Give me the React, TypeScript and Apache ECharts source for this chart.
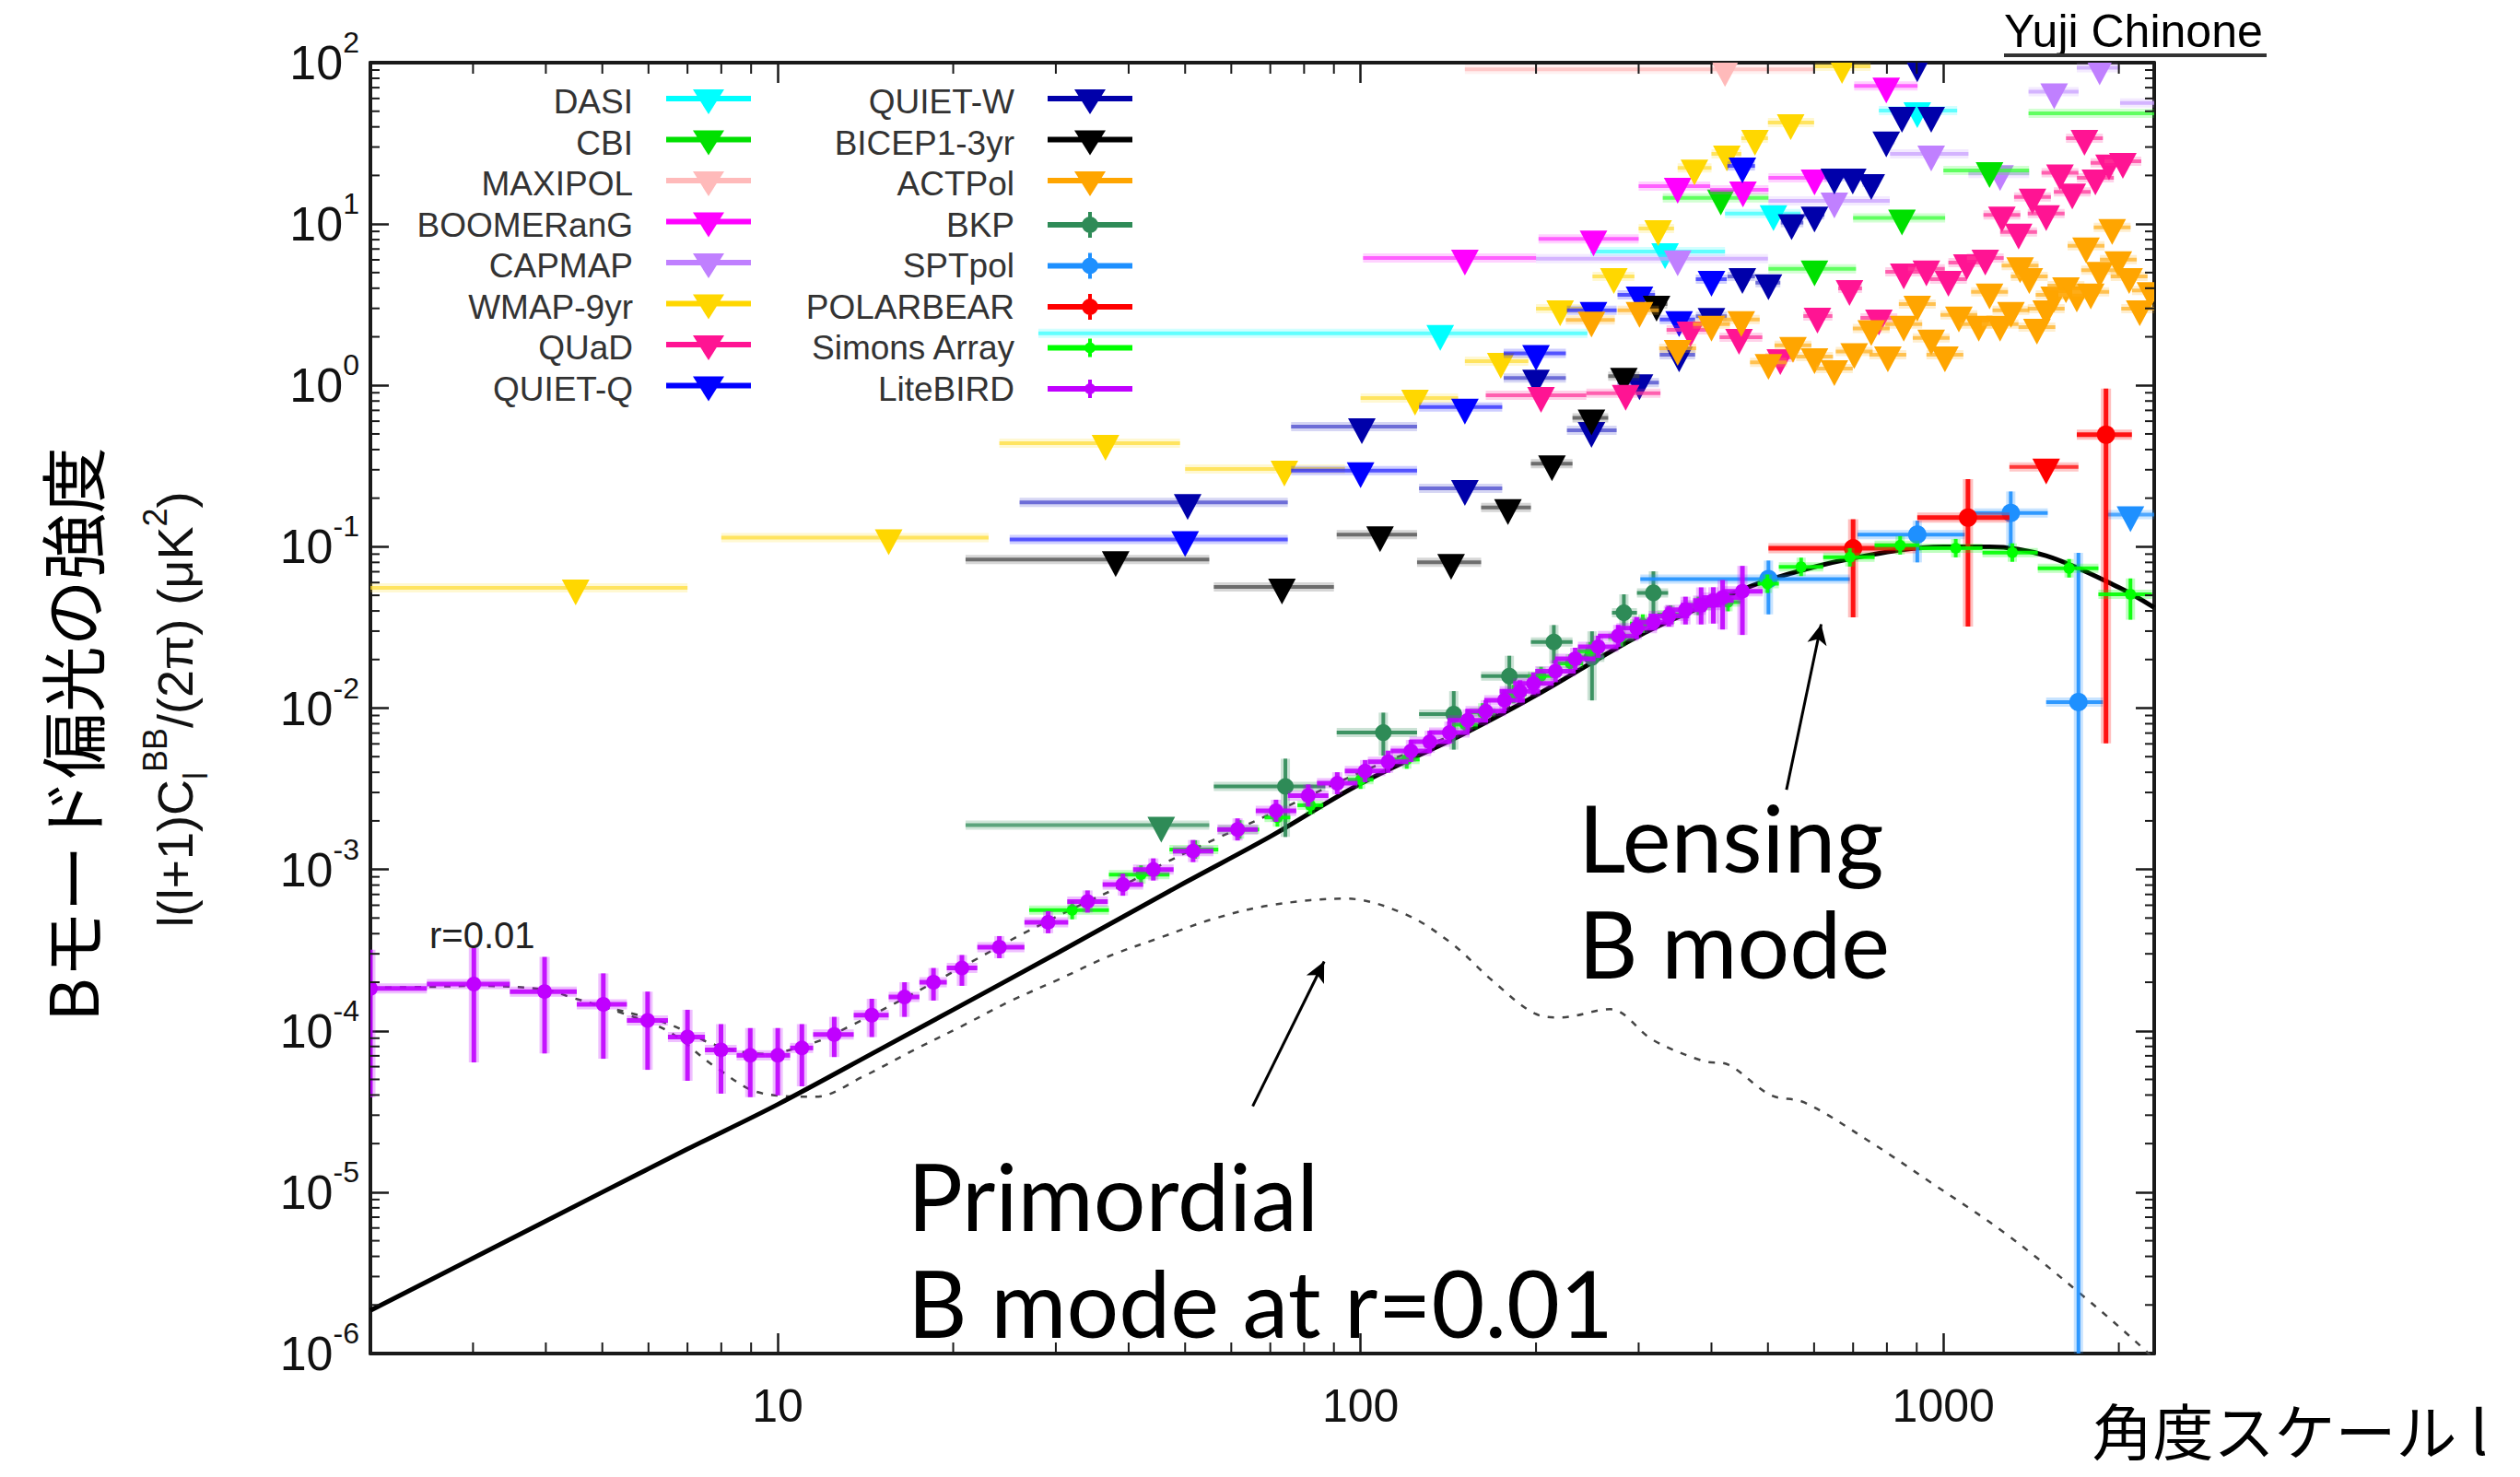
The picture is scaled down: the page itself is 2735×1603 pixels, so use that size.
import React, { useEffect, useRef } from 'react';
import * as echarts from 'echarts';

// ---------- axes ----------
const X_RANGE = [2, 2300];
const Y_RANGE = [1e-6, 100];
const X_MINOR_TICKS = [3, 4, 5, 6, 7, 8, 9, 20, 30, 40, 50, 60, 70, 80, 90, 200, 300, 400, 500, 600, 700, 800, 900, 2000];
const Y_TICK_MANTISSAS = [2, 3, 4, 5, 6, 7, 8, 9];
const Y_TICK_DECADES = [-6, -5, -4, -3, -2, -1, 0, 1];

// ---------- upper limits: [l, limit, lMin, lMax] ----------
const DASI = [[137, 2.1, 28, 245], [333, 6.75, 248, 422], [511, 11.6, 422, 569], [902, 50.5, 775, 1056]];
const CBI = [[415, 14.5, 330, 501], [601, 5.28, 501, 708], [849, 10.9, 700, 1007], [1200, 21.5, 1000, 1403], [2600, 48.5, 1400, 3500]];
const MAXIPOL = [[422, 91, 151, 601]];
const BOOMERANG = [[151, 6.15, 101, 200], [251, 8.1, 202, 300], [350, 17.2, 300, 398], [453, 16.3, 398, 501], [601, 19.3, 501, 645], [798, 71.7, 703, 903]];
const CAPMAP = [[350, 6.1, 200, 500], [650, 13.9, 501, 809], [953, 27.2, 810, 1104], [1251, 20.6, 1104, 1403], [1549, 66, 1400, 1706], [1854, 93, 1694, 2009], [2450, 56.3, 2010, 2800]];
const WMAP9 = [[4.5, 0.0556, 2.0, 7.0], [15.5, 0.114, 8.0, 23.0], [36.5, 0.438, 24, 49], [74, 0.303, 50, 94], [124, 0.834, 100, 147], [174, 1.41, 151, 194], [220, 2.99, 200, 242], [272, 4.73, 250, 295], [324, 9.38, 300, 345], [374, 22.3, 350, 400], [425, 27.2, 400, 450], [475, 34, 450, 500], [547, 42.5, 500, 600], [670, 95, 600, 750]];
const QUAD = [[204, 0.867, 164, 244], [285, 0.895, 244, 327], [368, 2.21, 335, 400], [446, 1.99, 413, 489], [525, 1.49, 495, 555], [608, 2.69, 575, 645], [690, 3.99, 660, 725], [775, 2.62], [855, 5.05], [935, 5.28], [1020, 4.55], [1097, 5.76], [1180, 6.15], [1260, 11.4], [1346, 8.93], [1422, 14.7], [1501, 11.6], [1585, 20.8], [1664, 15.8], [1746, 34], [1823, 19.3], [1924, 23.9], [2032, 24.5]];
const QUIET_Q = [[50, 0.111, 25, 75], [100, 0.296, 76, 125], [151, 0.735, 126, 175], [200, 1.58, 176, 225], [251, 2.92, 226, 275], [301, 3.64, 276, 320], [352, 2.56, 326, 375], [400, 4.55, 376, 425], [452, 22.9, 426, 475]];
const QUIET_W = [[50.5, 0.188, 26, 75], [100.5, 0.555, 76, 125], [151, 0.23, 126, 175], [200, 1.11, 176, 225], [249, 0.526, 226, 275], [301, 1.04, 276, 325], [352, 1.55, 326, 375], [400, 2.68, 376, 425], [452, 4.73, 426, 475], [501, 4.33, 476, 525], [549, 10.2, 526, 575], [601, 11.4, 576, 625], [650, 19.6, 626, 675], [699, 19.6, 676, 725], [752, 18.1, 726, 775], [798, 33.3, 776, 825], [849, 47.3, 826, 875], [902, 97, 876, 925], [953, 47.3, 926, 975]];
const BICEP1 = [[38, 0.0833, 21, 55], [73.3, 0.0563, 56, 90], [108, 0.119, 91, 125], [143, 0.08, 125, 161], [179, 0.175, 161, 196], [213, 0.327, 196, 231], [249, 0.63, 231, 266], [283, 1.14, 266, 301], [322, 3.19, 301, 336]];
const ACTPOL = [[249, 2.54, 225, 273], [301, 2.92, 276, 325], [350, 1.7], [400, 2.4], [450, 2.56], [501, 1.39], [552, 1.77], [601, 1.51], [650, 1.27], [703, 1.62], [752, 2.25], [803, 1.55], [855, 2.4], [902, 3.19], [953, 1.97], [1006, 1.55], [1063, 2.73], [1150, 2.4], [1200, 3.8], [1251, 2.4], [1306, 2.92], [1354, 5.52], [1404, 4.73], [1447, 2.3], [1501, 2.99], [1549, 3.64], [1623, 4.15], [1694, 3.64], [1757, 7.33], [1790, 3.8], [1854, 5.17], [1948, 9.54], [1996, 6.02], [2083, 4.73], [2172, 2.99], [2266, 3.88]];
const BKP_LIMITS = [[45.5, 0.00188, 21, 55]];
const SPTPOL_LIMITS = [[2094, 0.158, 1910, 2500]];
const POLARBEAR_LIMITS = [[1501, 0.312, 1298, 1705]];

// ---------- detections: [l, value, lMin, lMax, errLow, errHigh] ----------
const BKP = [[74.3, 0.00327, 56, 87, 0.00159, 0.00486], [109.4, 0.00705, 91, 125, 0.00507, 0.00937], [144.5, 0.00917, 126, 149, 0.00553, 0.01274], [180, 0.0158, 161, 195, 0.0122, 0.0211], [214.6, 0.0257, 196, 231, 0.0189, 0.0327], [249.5, 0.02065, 237, 262, 0.01116, 0.0299], [283, 0.039, 270, 298, 0.0306, 0.0507], [318, 0.0518, 298, 337, 0.0381, 0.0704]];
const SPTPOL = [[501, 0.0631, 302, 691, 0.0381, 0.0821], [902, 0.119, 712, 1088, 0.08, 0.145], [1305, 0.162, 1129, 1510, 0.1, 0.22], [1705, 0.0109, 1501, 1878, 1e-7, 0.0916]];
const POLARBEAR = [[700, 0.0978, 501, 897, 0.0365, 0.148], [1102, 0.1515, 902, 1298, 0.032, 0.262], [1901, 0.495, 1694, 2106, 0.00604, 0.955]];
const SIMONS = [[32, 5.6e-4, 27, 37], [42, 9.3e-4, 37, 47], [52, 1.33e-3, 47, 57], [62, 1.77e-3, 57, 67], [72, 2.1e-3], [82, 2.5e-3], [100, 3.6e-3], [120, 4.8e-3], [151, 7.9e-3], [162, 9.4e-3], [183, 0.0122], [204, 0.0158], [229, 0.0189], [248, 0.0225], [280, 0.0275], [305, 0.0334], [340, 0.038], [380, 0.043], [427, 0.0454], [499, 0.059, 480, 522], [570, 0.075, 522, 622], [691, 0.086, 622, 762], [843, 0.102, 762, 910], [1050, 0.098, 910, 1167], [1313, 0.092, 1167, 1452], [1643, 0.0735, 1452, 1845], [2094, 0.0507, 1845, 2280, 0.0353, 0.0636]];
const LITEBIRD = [[2.0, 1.83e-4, 1.6, 2.5, 3.88e-5, 3.18e-4], [3.01, 1.95e-4, 2.5, 3.47, 6.37e-5, 3.27e-4], [3.98, 1.75e-4, 3.47, 4.52, 7.24e-5, 2.87e-4], [5.02, 1.46e-4, 4.52, 5.51, 6.71e-5, 2.27e-4], [5.98, 1.16e-4, 5.51, 6.48, 5.73e-5, 1.75e-4], [7.0, 9.15e-5, 6.48, 7.5, 4.9e-5, 1.35e-4], [7.99, 7.62e-5, 7.5, 8.5, 4.08e-5, 1.1e-4], [8.97, 7.05e-5, 8.5, 9.5, 3.88e-5, 1.04e-4], [10.0, 7.05e-5, 9.5, 10.5, 3.98e-5, 1.04e-4], [11.0, 7.83e-5, 10.5, 11.5, 4.53e-5, 1.1e-4], [12.5, 9.49e-5, 11.5, 13.5, 6.88e-5, 1.22e-4], [14.5, 1.25e-4, 13.5, 15.5, 9.15e-5, 1.58e-4], [16.5, 1.62e-4, 15.5, 17.5, 1.22e-4, 2.0e-4], [18.5, 2.0e-4, 17.5, 19.5, 1.54e-4, 2.45e-4], [20.7, 2.45e-4, 19.5, 22.0, 1.9e-4, 2.95e-4], [24.0, 3.3e-4, 22.0, 26.5], [29.1, 4.71e-4, 26.5, 31.5], [34.0, 6.33e-4], [39.1, 8.05e-4], [44.1, 1.0e-3], [51.6, 1.3e-3], [61.5, 1.77e-3], [71.6, 2.31e-3], [81.3, 2.87e-3], [91.2, 3.42e-3], [101.8, 4.07e-3], [111.5, 4.65e-3], [122, 5.42e-3], [131.4, 6.18e-3], [142, 7.05e-3], [152.7, 8.4e-3], [164, 9.57e-3], [176.6, 0.0112], [187.7, 0.0127], [198, 0.01422], [216, 0.01694], [233.5, 0.0202], [255.7, 0.024], [276.7, 0.028], [297.7, 0.0313], [318, 0.0341, 0, 0, 0.031, 0.038], [338, 0.0373, 0, 0, 0.032, 0.043], [361, 0.0407, 0, 0, 0.033, 0.049], [384, 0.0434, 0, 0, 0.033, 0.056], [403, 0.0464, 0, 0, 0.0334, 0.0561], [418, 0.0485, 0, 0, 0.0307, 0.0622], [452, 0.053, 0, 0, 0.0284, 0.0761]];

// ---------- theory curves: [l, D_l] ----------
const LENSING = [[2, 1.85e-6], [3, 3.9e-6], [5, 1.0e-5], [7, 1.85e-5], [10, 3.5e-5], [15, 7.7e-5], [20, 1.35e-4], [30, 3.0e-4], [50, 8.3e-4], [70, 1.6e-3], [100, 3.4e-3], [150, 6.9e-3], [200, 0.012], [300, 0.028], [400, 0.045], [500, 0.062], [700, 0.085], [1000, 0.1], [1200, 0.1], [1500, 0.088], [2000, 0.056], [2300, 0.042]];
const PRIMORDIAL = [[2, 1.85e-4], [2.5, 1.87e-4], [3, 1.9e-4], [4, 1.8e-4], [4.4, 1.62e-4], [5.3, 1.32e-4], [6.5, 9.9e-5], [7.8, 6.0e-5], [9.4, 4.1e-5], [11.6, 3.9e-5], [14, 5.2e-5], [17, 7.5e-5], [20.7, 1.07e-4], [25, 1.52e-4], [30.5, 2.1e-4], [37, 2.9e-4], [45.5, 3.8e-4], [56, 4.95e-4], [70, 6.0e-4], [94, 6.6e-4], [119, 5.3e-4], [143, 3.5e-4], [168, 2.06e-4], [199, 1.28e-4], [220, 1.21e-4], [268, 1.36e-4], [317, 8.8e-5], [387, 6.5e-5], [428, 6.15e-5], [505, 4.0e-5], [577, 3.6e-5], [741, 2.1e-5], [951, 1.15e-5], [1282, 5.5e-6], [1730, 2.3e-6], [2219, 1.05e-6], [2300, 9e-7]];
const TOTAL = [[5.3, 1.35e-4], [6.5, 1.1e-4], [7.8, 8.2e-5], [9.4, 7.2e-5], [11.6, 8.5e-5], [13.3, 1.07e-4], [16, 1.5e-4], [21.6, 2.7e-4], [26, 3.9e-4], [33, 6.0e-4], [40, 8.3e-4], [46, 1.09e-3], [56.5, 1.55e-3], [70, 2.2e-3], [100, 4.0e-3], [150, 7.3e-3], [200, 0.0124]];

// ---------- arrows (data coords) ----------
const LENSING_ARROW = [[538, 0.00312], [617, 0.0331]];
const PRIMORDIAL_ARROW = [[65.3, 3.41e-5], [86.6, 2.69e-4]];

const LEGEND_LEFT = ['DASI', 'CBI', 'MAXIPOL', 'BOOMERanG', 'CAPMAP', 'WMAP-9yr', 'QUaD', 'QUIET-Q'];
const LEGEND_RIGHT = ['QUIET-W', 'BICEP1-3yr', 'ACTPol', 'BKP', 'SPTpol', 'POLARBEAR', 'Simons Array', 'LiteBIRD'];

const FONT = '"Liberation Sans", Arial, sans-serif';
const ANN = 'Lato, "Open Sans", sans-serif';
const CJK = '"Noto Sans CJK JP", sans-serif';

const LIMIT_ICON = 'path://M0,7L92,7L92,13L0,13Z M29,0L63,0L46,27Z';
const POINT_ICON = 'path://M0,11L92,11L92,17L0,17Z M44,0L48,0L48,28L44,28Z M37,14A9,9,0,1,1,55,14A9,9,0,1,1,37,14Z';
const SMALL_ICON = 'path://M0,11L92,11L92,17L0,17Z M44,4L48,4L48,24L44,24Z M40,14A6,6,0,1,1,52,14A6,6,0,1,1,40,14Z';

const DIMS = ['l', 'y', 'lo', 'hi', 'ylo', 'yhi'].map((n) => ({ name: n, type: 'float' }));
const norm = (rows: number[][]) => rows.map((r) => [r[0], r[1], r[2] || 0, r[3] || 0, r[4] || 0, r[5] || 0]);

function limitSeries(name: string, rows: number[][], color: string, barColor: string) {
  return {
    type: 'custom', name, coordinateSystem: 'cartesian2d', clip: true, z: 3, silent: true,
    itemStyle: { color }, dimensions: DIMS, encode: { x: 0, y: 1 }, data: norm(rows),
    renderItem: (params: any, api: any) => {
      const l = api.value(0), y = api.value(1), lo = api.value(2), hi = api.value(3);
      const p = api.coord([l, y]);
      const x0 = lo > 0 ? api.coord([lo, y])[0] : p[0] - 20;
      const x1 = hi > 0 ? api.coord([hi, y])[0] : p[0] + 20;
      return {
        type: 'group',
        children: [
          { type: 'line', shape: { x1: x0, y1: p[1], x2: x1, y2: p[1] }, style: { stroke: barColor, lineWidth: 10, opacity: 0.22 } },
          { type: 'line', shape: { x1: x0, y1: p[1], x2: x1, y2: p[1] }, style: { stroke: barColor, lineWidth: 4, opacity: 0.72 } },
          { type: 'polygon', shape: { points: [[p[0] - 15, p[1] - 9], [p[0] + 15, p[1] - 9], [p[0], p[1] + 19]] }, style: { fill: color } },
        ],
      };
    },
  };
}

function pointSeries(name: string, rows: number[][], color: string, r: number, core: number, hw: number, vw: number, z: number) {
  return {
    type: 'custom', name, coordinateSystem: 'cartesian2d', clip: true, z, silent: true,
    itemStyle: { color }, dimensions: DIMS, encode: { x: 0, y: 1 }, data: norm(rows),
    renderItem: (params: any, api: any) => {
      const l = api.value(0), y = api.value(1), lo = api.value(2), hi = api.value(3), ylo = api.value(4), yhi = api.value(5);
      const p = api.coord([l, y]);
      const xa = lo > 0 ? api.coord([lo, y])[0] : p[0] - hw;
      const xb = hi > 0 ? api.coord([hi, y])[0] : p[0] + hw;
      const ya = ylo > 0 ? api.coord([l, ylo])[1] : p[1] + vw;
      const yb = yhi > 0 ? api.coord([l, yhi])[1] : p[1] - vw;
      const children: any[] = [];
      [core + 6, core].forEach((w, i) => {
        const op = i === 0 ? 0.25 : 0.9;
        children.push({ type: 'line', shape: { x1: xa, y1: p[1], x2: xb, y2: p[1] }, style: { stroke: color, lineWidth: w, opacity: op } });
        children.push({ type: 'line', shape: { x1: p[0], y1: ya, x2: p[0], y2: yb }, style: { stroke: color, lineWidth: w, opacity: op } });
      });
      children.push({ type: 'circle', shape: { cx: p[0], cy: p[1], r }, style: { fill: color } });
      return { type: 'group', children };
    },
  };
}

function lineSeries(name: string, pts: number[][], style: any, z: number, extra: any = {}) {
  return {
    type: 'line', name, data: pts, showSymbol: false, symbol: 'none', smooth: 0.35, silent: true, z,
    lineStyle: style, ...extra,
  };
}

function buildOption() {
  const axisLine = { show: true, onZero: false, lineStyle: { color: '#1a1a1a', width: 4 } };
  const xTicks = X_MINOR_TICKS.map((v) => [v, 1]);
  const yTicks: number[][] = [];
  Y_TICK_DECADES.forEach((e) => Y_TICK_MANTISSAS.forEach((m) => yTicks.push([10, m * Math.pow(10, e)])));

  const tickStyle = { stroke: '#1a1a1a', lineWidth: 2 };
  const xMinor = {
    type: 'custom', name: 'xminor', coordinateSystem: 'cartesian2d', silent: true, z: 6, data: xTicks,
    renderItem: (params: any, api: any) => {
      const p = api.coord([api.value(0), api.value(1)]);
      const cs = params.coordSys;
      const b = cs.y + cs.height, t = cs.y;
      return { type: 'group', children: [
        { type: 'line', shape: { x1: p[0], y1: b, x2: p[0], y2: b - 12 }, style: tickStyle },
        { type: 'line', shape: { x1: p[0], y1: t, x2: p[0], y2: t + 12 }, style: tickStyle },
      ] };
    },
  };
  const yMinor = {
    type: 'custom', name: 'yminor', coordinateSystem: 'cartesian2d', silent: true, z: 6, data: yTicks,
    renderItem: (params: any, api: any) => {
      const p = api.coord([api.value(0), api.value(1)]);
      const cs = params.coordSys;
      const lft = cs.x, rgt = cs.x + cs.width;
      return { type: 'group', children: [
        { type: 'line', shape: { x1: lft, y1: p[1], x2: lft + 10, y2: p[1] }, style: tickStyle },
        { type: 'line', shape: { x1: rgt, y1: p[1], x2: rgt - 10, y2: p[1] }, style: tickStyle },
      ] };
    },
  };

  const icons: Record<string, string> = {
    BKP: POINT_ICON, SPTpol: POINT_ICON, POLARBEAR: POINT_ICON, 'Simons Array': SMALL_ICON, LiteBIRD: SMALL_ICON,
  };
  const legendCommon = {
    orient: 'vertical', top: 87, align: 'right', itemWidth: 92, itemHeight: 28, itemGap: 7.5, selectedMode: false,
    textStyle: { fontSize: 37, fontFamily: FONT, color: '#333', padding: [0, 31, 0, 0] },
  };

  const arrowLine = {
    silent: true, symbol: ['none', 'arrow'], symbolSize: [16, 22], label: { show: false },
    lineStyle: { color: '#000', width: 3, type: 'solid' }, emphasis: { disabled: true },
    data: [
      [{ coord: LENSING_ARROW[0] }, { coord: LENSING_ARROW[1] }],
      [{ coord: PRIMORDIAL_ARROW[0] }, { coord: PRIMORDIAL_ARROW[1] }],
    ],
  };

  return {
    animation: false,
    backgroundColor: '#ffffff',
    grid: { left: 402, top: 68, width: 1936, height: 1401 },
    legend: [
      { ...legendCommon, right: 1915, data: LEGEND_LEFT.map((n) => ({ name: n, icon: icons[n] || LIMIT_ICON })) },
      { ...legendCommon, right: 1501, data: LEGEND_RIGHT.map((n) => ({ name: n, icon: icons[n] || LIMIT_ICON })) },
    ],
    xAxis: [
      {
        type: 'log', logBase: 10, min: X_RANGE[0], max: X_RANGE[1], position: 'bottom',
        axisLine, axisTick: { inside: true, length: 22, lineStyle: { color: '#1a1a1a', width: 2.5 } },
        splitLine: { show: false },
        axisLabel: {
          margin: 32, fontSize: 50, fontFamily: FONT, color: '#111', showMinLabel: false, showMaxLabel: false,
          formatter: (v: number) => { const e = Math.log10(v); return Math.abs(e - Math.round(e)) < 1e-6 ? String(Math.round(v)) : ''; },
        },
        name: '角度スケール l', nameLocation: 'end', nameGap: 362,
        nameTextStyle: { fontSize: 66, lineHeight: 66, fontFamily: CJK, color: '#000', align: 'right', verticalAlign: 'top', padding: [48, 0, 0, 0] },
      },
      {
        type: 'log', logBase: 10, min: X_RANGE[0], max: X_RANGE[1], position: 'top',
        axisLine, axisTick: { inside: true, length: 22, lineStyle: { color: '#1a1a1a', width: 2.5 } },
        splitLine: { show: false }, axisLabel: { show: false },
      },
    ],
    yAxis: [
      {
        type: 'log', logBase: 10, min: Y_RANGE[0], max: Y_RANGE[1], position: 'left',
        axisLine, axisTick: { inside: true, length: 20, lineStyle: { color: '#1a1a1a', width: 2.5 } },
        splitLine: { show: false },
        axisLabel: {
          margin: 12,
          formatter: (v: number) => { const e = Math.log10(v); const r = Math.round(e); return Math.abs(e - r) < 1e-6 ? `{b|10}{s|${r}}` : ''; },
          rich: {
            b: { fontSize: 52, fontFamily: FONT, color: '#111', lineHeight: 76 },
            s: { fontSize: 32, fontFamily: FONT, color: '#111', lineHeight: 32, verticalAlign: 'top' },
          },
        },
      },
      {
        type: 'log', logBase: 10, min: Y_RANGE[0], max: Y_RANGE[1], position: 'right',
        axisLine, axisTick: { inside: true, length: 20, lineStyle: { color: '#1a1a1a', width: 2.5 } },
        splitLine: { show: false }, axisLabel: { show: false },
      },
    ],
    series: [
      lineSeries('primordial', PRIMORDIAL, { color: '#444', width: 2.5, type: [7, 9] }, 1),
      lineSeries('total', TOTAL, { color: '#444', width: 2.5, type: [7, 9] }, 1),
      lineSeries('lensing', LENSING, { color: '#000', width: 5 }, 2, { markLine: arrowLine }),
      limitSeries('MAXIPOL', MAXIPOL, '#FFBABA', '#FFBABA'),
      limitSeries('DASI', DASI, '#00FFFF', '#33FFFF'),
      limitSeries('CAPMAP', CAPMAP, '#C080FF', '#C8A0FF'),
      limitSeries('CBI', CBI, '#00E000', '#33FF33'),
      limitSeries('BOOMERanG', BOOMERANG, '#FF00FF', '#FF33FF'),
      limitSeries('WMAP-9yr', WMAP9, '#FFD700', '#FFDD33'),
      limitSeries('QUIET-Q', QUIET_Q, '#0000FF', '#2222FF'),
      limitSeries('QUIET-W', QUIET_W, '#0000AA', '#4444CC'),
      limitSeries('BICEP1-3yr', BICEP1, '#000000', '#444444'),
      limitSeries('QUaD', QUAD, '#FF1493', '#FF3399'),
      limitSeries('ACTPol', ACTPOL, '#FFA500', '#FFB020'),
      limitSeries('BKP', BKP_LIMITS, '#2E8B57', '#2E8B57'),
      limitSeries('SPTpol', SPTPOL_LIMITS, '#1E90FF', '#1E90FF'),
      limitSeries('POLARBEAR', POLARBEAR_LIMITS, '#FF0000', '#FF0000'),
      pointSeries('BKP', BKP, '#2E8B57', 9, 4, 0, 0, 4),
      pointSeries('SPTpol', SPTPOL, '#1E90FF', 10, 4, 0, 0, 4),
      pointSeries('POLARBEAR', POLARBEAR, '#FF0000', 10, 5, 0, 0, 4),
      pointSeries('Simons Array', SIMONS, '#00FF00', 6, 4, 14, 10, 4),
      pointSeries('LiteBIRD', LITEBIRD, '#C000FF', 8, 5, 22, 12, 5),
      xMinor,
      yMinor,
    ],
    graphic: [
      { type: 'text', x: 2175, y: 34, style: { text: 'Yuji Chinone', fontSize: 50, fontFamily: FONT, fill: '#000', align: 'left', verticalAlign: 'middle' } },
      { type: 'line', shape: { x1: 2175, y1: 60, x2: 2460, y2: 60 }, style: { stroke: '#333', lineWidth: 4 } },
      { type: 'text', x: 466, y: 1015, z: 10, style: { text: 'r=0.01', fontSize: 40, fontFamily: FONT, fill: '#222', align: 'left', verticalAlign: 'middle' } },
      { type: 'text', x: 1713, y: 908, z: 10, style: { text: 'Lensing', fontSize: 100, fontFamily: ANN, fill: '#000', align: 'left', verticalAlign: 'middle' } },
      { type: 'text', x: 1713, y: 1023, z: 10, style: { text: 'B mode', fontSize: 100, fontFamily: ANN, fill: '#000', align: 'left', verticalAlign: 'middle' } },
      { type: 'text', x: 985, y: 1297, z: 10, style: { text: 'Primordial', fontSize: 100, fontFamily: ANN, fill: '#000', align: 'left', verticalAlign: 'middle' } },
      { type: 'text', x: 985, y: 1413, z: 10, style: { text: 'B mode at r=0.01', fontSize: 100, fontFamily: ANN, fill: '#000', align: 'left', verticalAlign: 'middle' } },
      { type: 'text', x: 75, y: 797, rotation: Math.PI / 2, style: { text: 'Bモード偏光の強度', fontSize: 72, fontFamily: CJK, fill: '#000', align: 'center', verticalAlign: 'middle' } },
      {
        type: 'text', x: 190, y: 770, rotation: Math.PI / 2,
        style: {
          text: '{m|l(l+1)C}{sub|l}{sup|BB}{m|/(2π) (μK}{sup|2}{m|)}', align: 'center', verticalAlign: 'middle', fill: '#111',
          rich: {
            m: { fontSize: 54, fontFamily: FONT, fill: '#111', lineHeight: 80 },
            sub: { fontSize: 36, fontFamily: FONT, fill: '#111', lineHeight: 36, verticalAlign: 'bottom' },
            sup: { fontSize: 36, fontFamily: FONT, fill: '#111', lineHeight: 36, verticalAlign: 'top' },
          },
        },
      },
    ],
  };
}

export default function App() {
  const ref = useRef<HTMLDivElement>(null);
  useEffect(() => {
    if (!ref.current) return;
    const chart = echarts.init(ref.current, undefined, { renderer: 'svg' });
    chart.setOption(buildOption() as any);
    return () => chart.dispose();
  }, []);
  return <div ref={ref} style={{ position: 'fixed', left: 0, top: 0, width: 2735, height: 1603, background: '#fff' }} />;
}
